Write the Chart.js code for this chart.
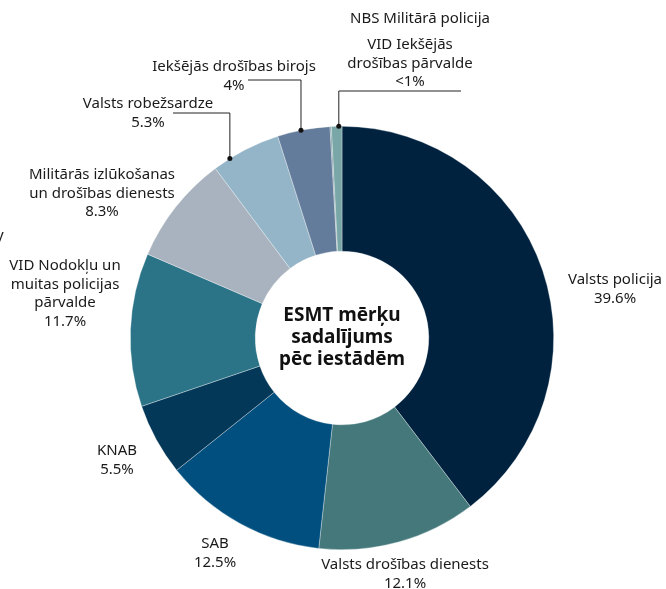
<!DOCTYPE html>
<html>
<head>
<meta charset="utf-8">
<script src="https://cdn.jsdelivr.net/npm/chart.js@4"></script>
<style>
  html, body { margin: 0; padding: 0; background: #ffffff; }
  canvas { display: block; }
</style>
</head>
<body>
<canvas id="esmtChart" width="666" height="589"></canvas>
<script>
// Data, clockwise from 12 o'clock
const agencies = [
    'Valsts policija',
    'Valsts drošības dienests',
    'SAB',
    'KNAB',
    'VID Nodokļu un muitas policijas pārvalde',
    'Militārās izlūkošanas un drošības dienests',
    'Valsts robežsardze',
    'Iekšējās drošības birojs',
    'NBS Militārā policija',
    'VID Iekšējās drošības pārvalde'
];
const shares = [39.6, 12.1, 12.5, 5.5, 11.7, 8.3, 5.3, 4, 0.1, 0.8];
const shareLabels = ['39.6%', '12.1%', '12.5%', '5.5%', '11.7%', '8.3%', '5.3%', '4%', '', '<1%'];
const sliceColors = ['#00223f', '#44787a', '#004f7e', '#033858', '#2b7488',
                     '#a9b3bf', '#94b5c7', '#647c9b', '#6f8f9a', '#79a6a6'];
const centerLines = ['ESMT mērķu', 'sadalījums', 'pēc iestādēm'];

// Label layout: text lines (name lines + share) and where to put them
const labelLayout = [
    { i: 0, x: 615, y: 280, lines: ['Valsts policija'] },
    { i: 1, x: 405, y: 565, lines: ['Valsts drošības dienests'] },
    { i: 2, x: 215, y: 544, lines: ['SAB'] },
    { i: 3, x: 117, y: 451, lines: ['KNAB'] },
    { i: 4, x: 65, y: 266, lines: ['VID Nodokļu un', 'muitas policijas', 'pārvalde'] },
    { i: 5, x: 102, y: 175, lines: ['Militārās izlūkošanas', 'un drošības dienests'] },
    { i: 6, x: 148, y: 104, lines: ['Valsts robežsardze'], leader: { at: 0.25, elbowY: 113, endX: 173 } },
    { i: 7, x: 234, y: 67, lines: ['Iekšējās drošības birojs'], leader: { at: 0.45, elbowY: 80, endX: 248 } },
    { i: 8, x: 420, y: 19, lines: ['NBS Militārā policija'] },
    { i: 9, x: 410, y: 45, lines: ['VID Iekšējās', 'drošības pārvalde'], leader: { at: 0.7, elbowY: 91, endX: 461 } }
];

const textFont = '"Noto Sans", sans-serif';

const labelsPlugin = {
    id: 'sliceLabels',
    afterDraw(chart) {
        const ctx = chart.ctx;
        const arcs = chart.getDatasetMeta(0).data;
        ctx.save();
        ctx.fillStyle = '#1a1a1a';
        ctx.textAlign = 'center';
        ctx.textBaseline = 'middle';
        ctx.font = '15px ' + textFont;

        labelLayout.forEach(lab => {
            const all = lab.lines.slice();
            if (shareLabels[lab.i]) all.push(shareLabels[lab.i]);
            all.forEach((t, k) => ctx.fillText(t, lab.x, lab.y + k * 18.5));

            if (lab.leader) {
                const arc = arcs[lab.i];
                const a = arc.startAngle + (arc.endAngle - arc.startAngle) * lab.leader.at;
                const px = arc.x + Math.cos(a) * arc.outerRadius;
                const py = arc.y + Math.sin(a) * arc.outerRadius;
                ctx.strokeStyle = '#222222';
                ctx.lineWidth = 1;
                ctx.beginPath();
                ctx.moveTo(px, py);
                ctx.lineTo(px, lab.leader.elbowY);
                ctx.lineTo(lab.leader.endX, lab.leader.elbowY);
                ctx.stroke();
                ctx.beginPath();
                ctx.arc(px, py, 2.5, 0, Math.PI * 2);
                ctx.fillStyle = '#111111';
                ctx.fill();
                ctx.fillStyle = '#1a1a1a';
            }
        });

        // stray glyph cut off at the left edge
        ctx.textAlign = 'left';
        ctx.fillText('y', -4, 236);

        // title in the hole
        const c = arcs[0];
        ctx.textAlign = 'center';
        ctx.fillStyle = '#111111';
        ctx.font = 'bold 19px ' + textFont;
        centerLines.forEach((t, k) => ctx.fillText(t, c.x, c.y - 22 + k * 22));
        ctx.restore();
    }
};

const ctx = document.getElementById('esmtChart').getContext('2d');
new Chart(ctx, {
    type: 'doughnut',
    data: {
        labels: agencies,
        datasets: [{
            data: shares,
            backgroundColor: sliceColors,
            borderColor: 'rgba(255,255,255,0.55)',
            borderWidth: 0.6
        }]
    },
    options: {
        responsive: false,
        animation: false,
        cutout: '41%',
        layout: { padding: { left: 130, right: 112, top: 126, bottom: 39 } },
        plugins: {
            legend: { display: false },
            tooltip: { enabled: false }
        }
    },
    plugins: [labelsPlugin]
});
</script>
</body>
</html>
